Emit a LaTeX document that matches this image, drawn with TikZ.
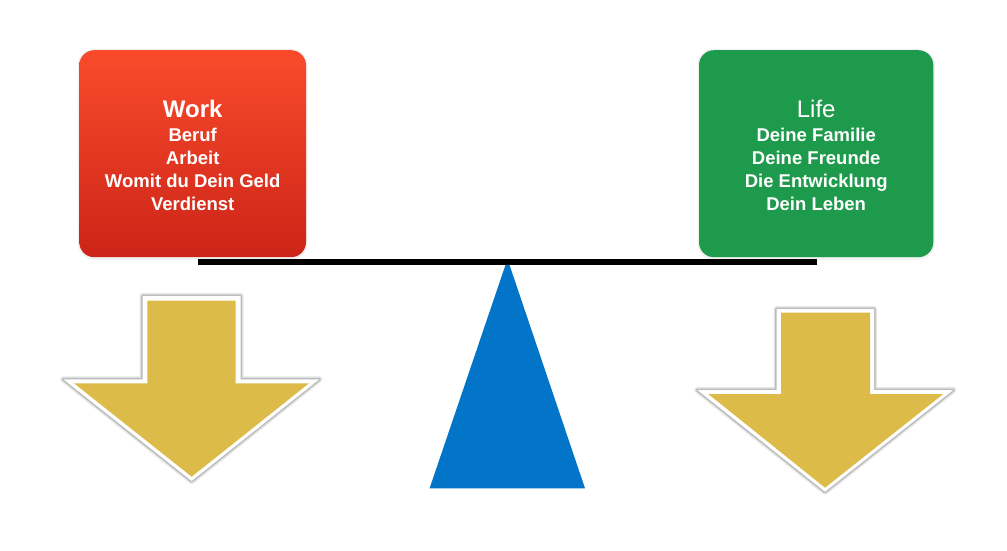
\documentclass[tikz,border=0pt]{standalone}
\usepackage{fontspec}
\setmainfont{Liberation Sans}
\definecolor{redtop}{HTML}{F94B2B}
\definecolor{redbot}{HTML}{CC2418}
\definecolor{lifegreen}{HTML}{1E9A4C}
\definecolor{arrowyellow}{HTML}{DDBB48}
\definecolor{fulcrumblue}{HTML}{0275C8}
\tikzset{
  boxshape/.style={rounded corners=15pt, minimum height=207pt, inner sep=0pt},
  boxshadow/.style={draw=black, draw opacity=0.06, line width=3pt, rounded corners=15pt},
  titletext/.style={anchor=base, text=white, font=\fontsize{24}{28}\selectfont},
  itemtext/.style={anchor=base, text=white, font=\fontsize{18.5}{22}\selectfont\bfseries},
  shadowwide/.style={draw=black, draw opacity=0.10, line width=6pt, line join=round},
  shadownarrow/.style={draw=black, draw opacity=0.18, line width=3pt, line join=round},
  arrowborder/.style={fill=white},
  arrowbody/.style={fill=arrowyellow}
}
\begin{document}
\begin{tikzpicture}[x=1pt,y=-1pt]
\useasboundingbox (0,0) rectangle (1007,551);
\fill[white] (0,0) rectangle (1007,551);

% box shadows
\draw[boxshadow] (79.3,50.5) rectangle (306,258);
\draw[boxshadow] (699,50.5) rectangle (933.3,258);
% boxes
\node[boxshape, minimum width=226.7pt, top color=redtop, bottom color=redbot] (work) at (192.65,153.7) {};
\node[boxshape, minimum width=234.3pt, fill=lifegreen] (life) at (816.15,153.7) {};

% work text
\node[titletext, font=\fontsize{24}{28}\selectfont\bfseries] (w0) at (192.7,117.3) {Work};
\node[itemtext] (w1) at (192.7,141.5) {Beruf};
\node[itemtext] (w2) at (192.7,164.5) {Arbeit};
\node[itemtext] (w3) at (192.7,187.5) {Womit du Dein Geld};
\node[itemtext] (w4) at (192.7,210.3) {Verdienst};

% life text
\node[titletext] (l0) at (816.2,117.3) {Life};
\node[itemtext] (l1) at (816.2,141.5) {Deine Familie};
\node[itemtext] (l2) at (816.2,164.5) {Deine Freunde};
\node[itemtext] (l3) at (816.2,187.5) {Die Entwicklung};
\node[itemtext] (l4) at (816.2,210.3) {Dein Leben};

% fulcrum and beam
\coordinate (apex) at (507.5,259);
\coordinate (baseL) at (429.6,488.3);
\coordinate (baseR) at (585,488.3);
\fill[fulcrumblue] (apex) -- (baseL) -- (baseR) -- cycle;
\fill[black] (198,259) rectangle (817,265.2);

% left arrow
\def\leftouter{(142.7,296) -- (240.7,296) -- (240.7,379.3) -- (319.3,379.3) -- (191.7,481) -- (63.3,379.3) -- (142.7,379.3) -- cycle}
\draw[shadowwide] \leftouter;
\draw[shadownarrow] \leftouter;
\fill[arrowborder] \leftouter;
\fill[arrowbody] (147.3,300.7) -- (235.7,300.7) -- (235.7,383.3) -- (309,383.3) -- (191.7,476.7) -- (74,383.3) -- (147.3,383.3) -- cycle;

% right arrow
\def\rightouter{(776.7,309) -- (874,309) -- (874,390) -- (953.3,390) -- (825,491.7) -- (697.3,390) -- (776.7,390) -- cycle}
\draw[shadowwide] \rightouter;
\draw[shadownarrow] \rightouter;
\fill[arrowborder] \rightouter;
\fill[arrowbody] (781,312.7) -- (870,312.7) -- (870,394) -- (943.3,394) -- (825,487.7) -- (708.3,394) -- (781,394) -- cycle;
\end{tikzpicture}
\end{document}
